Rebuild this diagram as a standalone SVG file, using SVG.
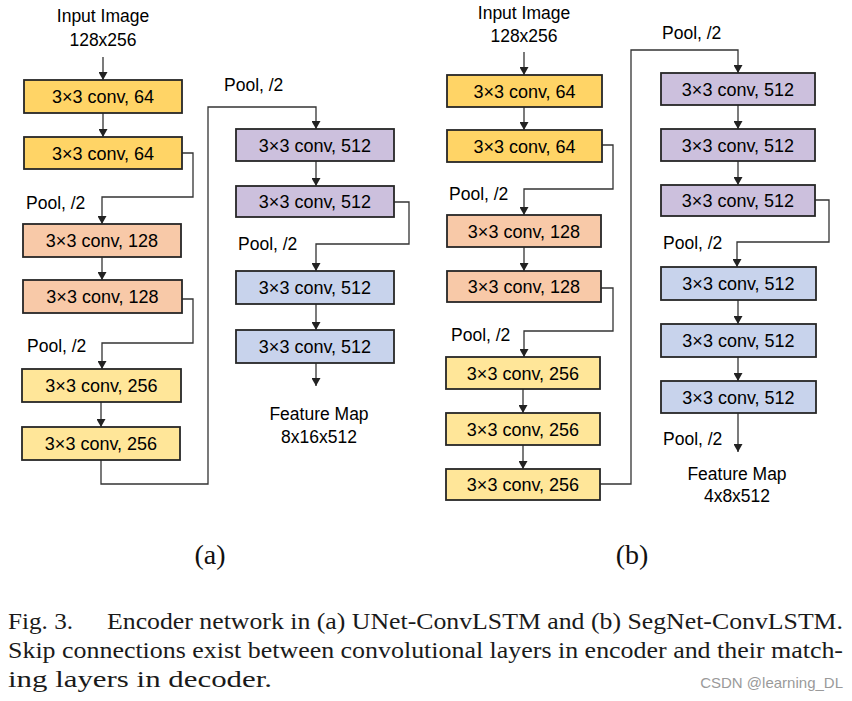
<svg xmlns="http://www.w3.org/2000/svg" width="852" height="701" viewBox="0 0 852 701">
<defs>
<style>
.box{stroke:#262626;stroke-width:1.8}
.g{fill:#FFD466}.s{fill:#F8C9A8}.y{fill:#FFE699}.p{fill:#CCC0DD}.b{fill:#C8D3EC}
.bt{font-family:"Liberation Sans",Arial,sans-serif;font-size:18px;fill:#000;text-anchor:middle}
.lb{font-family:"Liberation Sans",Arial,sans-serif;font-size:17.5px;fill:#000}
.c{text-anchor:middle}
.cap{font-size:24px;fill:#1a1a1a}
.sub{font-size:28px;fill:#111;text-anchor:middle}
.wm{font-family:"Liberation Sans",Arial,sans-serif;font-size:15px;fill:#9a9a9a;text-anchor:end}
.ln{fill:none;stroke:#333;stroke-width:1.3}
</style>
<marker id="arr" markerUnits="userSpaceOnUse" markerWidth="8" markerHeight="9" viewBox="0 0 8 9" refX="8" refY="4.5" orient="auto">
<path d="M0,0 L8,4.5 L0,9 Z" fill="#222"/>
</marker>
</defs>
<rect width="852" height="701" fill="#fff"/>

<g id="connectors">
<path class="ln" marker-end="url(#arr)" d="M103,57 V80"/>
<path class="ln" marker-end="url(#arr)" d="M103,113 V137"/>
<path class="ln" marker-end="url(#arr)" d="M182,153 H193 V197 H102 V224"/>
<path class="ln" marker-end="url(#arr)" d="M102,257 V280"/>
<path class="ln" marker-end="url(#arr)" d="M182,299 H193 V343 H102 V369"/>
<path class="ln" marker-end="url(#arr)" d="M101,402 V427"/>
<path class="ln" marker-end="url(#arr)" d="M101,460 V484 H208 V107 H316 V129"/>
<path class="ln" marker-end="url(#arr)" d="M316,161 V186"/>
<path class="ln" marker-end="url(#arr)" d="M394,202 H409 V244 H316 V271"/>
<path class="ln" marker-end="url(#arr)" d="M316,304 V330"/>
<path class="ln" marker-end="url(#arr)" d="M316,363 V386"/>

<path class="ln" marker-end="url(#arr)" d="M524,52 V75"/>
<path class="ln" marker-end="url(#arr)" d="M524,107 V130"/>
<path class="ln" marker-end="url(#arr)" d="M602,145 H613 V189 H524 V215"/>
<path class="ln" marker-end="url(#arr)" d="M524,247 V271"/>
<path class="ln" marker-end="url(#arr)" d="M601,288 H613 V331 H524 V357"/>
<path class="ln" marker-end="url(#arr)" d="M523,389 V413"/>
<path class="ln" marker-end="url(#arr)" d="M523,445 V469"/>
<path class="ln" marker-end="url(#arr)" d="M600,484 H631 V50 H738 V73"/>
<path class="ln" marker-end="url(#arr)" d="M738,105 V129"/>
<path class="ln" marker-end="url(#arr)" d="M738,161 V185"/>
<path class="ln" marker-end="url(#arr)" d="M815,200 H829 V242 H737 V267"/>
<path class="ln" marker-end="url(#arr)" d="M738,300 V324"/>
<path class="ln" marker-end="url(#arr)" d="M738,357 V381"/>
<path class="ln" marker-end="url(#arr)" d="M738,413 V452"/>
</g>

<g id="labels">
<text class="lb c" x="103" y="22">Input Image</text>
<text class="lb c" x="103" y="46">128x256</text>
<text class="lb" x="224" y="91">Pool, /2</text>
<text class="lb" x="26" y="209">Pool, /2</text>
<text class="lb" x="27" y="352">Pool, /2</text>
<text class="lb" x="238" y="250">Pool, /2</text>
<text class="lb c" x="319" y="420">Feature Map</text>
<text class="lb c" x="319" y="443">8x16x512</text>

<text class="lb c" x="524" y="19">Input Image</text>
<text class="lb c" x="524" y="42">128x256</text>
<text class="lb" x="449" y="200">Pool, /2</text>
<text class="lb" x="451" y="341">Pool, /2</text>
<text class="lb" x="662" y="39">Pool, /2</text>
<text class="lb" x="663" y="249">Pool, /2</text>
<text class="lb" x="663" y="445">Pool, /2</text>
<text class="lb c" x="737" y="480">Feature Map</text>
<text class="lb c" x="737" y="502">4x8x512</text>
</g>

<g id="a1"><rect class="box g" x="24" y="80" width="158" height="33"/><text class="bt" x="103" y="103">3×3 conv, 64</text></g>
<g id="a2"><rect class="box g" x="24" y="137" width="158" height="32"/><text class="bt" x="103" y="159.5">3×3 conv, 64</text></g>
<g id="a3"><rect class="box s" x="23" y="224" width="158" height="33"/><text class="bt" x="102" y="247">3×3 conv, 128</text></g>
<g id="a4"><rect class="box s" x="23" y="280" width="159" height="33"/><text class="bt" x="102.5" y="303">3×3 conv, 128</text></g>
<g id="a5"><rect class="box y" x="22" y="369" width="159" height="33"/><text class="bt" x="101.5" y="392">3×3 conv, 256</text></g>
<g id="a6"><rect class="box y" x="22" y="427" width="158" height="33"/><text class="bt" x="101" y="450">3×3 conv, 256</text></g>
<g id="a7"><rect class="box p" x="236" y="129" width="158" height="32"/><text class="bt" x="315" y="151.5">3×3 conv, 512</text></g>
<g id="a8"><rect class="box p" x="236" y="186" width="158" height="31"/><text class="bt" x="315" y="208">3×3 conv, 512</text></g>
<g id="a9"><rect class="box b" x="236" y="271" width="158" height="33"/><text class="bt" x="315" y="294">3×3 conv, 512</text></g>
<g id="a10"><rect class="box b" x="236" y="330" width="158" height="33"/><text class="bt" x="315" y="353">3×3 conv, 512</text></g>

<g id="b1"><rect class="box g" x="447" y="75" width="155" height="32"/><text class="bt" x="524.5" y="97.5">3×3 conv, 64</text></g>
<g id="b2"><rect class="box g" x="447" y="130" width="155" height="32"/><text class="bt" x="524.5" y="152.5">3×3 conv, 64</text></g>
<g id="b3"><rect class="box s" x="447" y="215" width="154" height="32"/><text class="bt" x="524" y="237.5">3×3 conv, 128</text></g>
<g id="b4"><rect class="box s" x="447" y="271" width="154" height="31"/><text class="bt" x="524" y="293">3×3 conv, 128</text></g>
<g id="b5"><rect class="box y" x="446" y="357" width="154" height="32"/><text class="bt" x="523" y="379.5">3×3 conv, 256</text></g>
<g id="b6"><rect class="box y" x="446" y="413" width="154" height="32"/><text class="bt" x="523" y="435.5">3×3 conv, 256</text></g>
<g id="b7"><rect class="box y" x="446" y="469" width="154" height="31"/><text class="bt" x="523" y="491">3×3 conv, 256</text></g>
<g id="b8"><rect class="box p" x="661" y="73" width="154" height="32"/><text class="bt" x="738" y="95.5">3×3 conv, 512</text></g>
<g id="b9"><rect class="box p" x="661" y="129" width="154" height="32"/><text class="bt" x="738" y="151.5">3×3 conv, 512</text></g>
<g id="b10"><rect class="box p" x="661" y="185" width="154" height="31"/><text class="bt" x="738" y="207">3×3 conv, 512</text></g>
<g id="b11"><rect class="box b" x="661" y="267" width="155" height="33"/><text class="bt" x="738.5" y="290">3×3 conv, 512</text></g>
<g id="b12"><rect class="box b" x="661" y="324" width="155" height="33"/><text class="bt" x="738.5" y="347">3×3 conv, 512</text></g>
<g id="b13"><rect class="box b" x="661" y="381" width="155" height="32"/><text class="bt" x="738.5" y="403.5">3×3 conv, 512</text></g>

<g id="caption" font-family="Liberation Serif, serif">
<text class="sub" x="210" y="564">(a)</text>
<text class="sub" x="632" y="564">(b)</text>
<text class="cap" x="8" y="629" textLength="65" lengthAdjust="spacingAndGlyphs">Fig. 3.</text>
<text class="cap" x="107" y="629" textLength="736" lengthAdjust="spacingAndGlyphs">Encoder network in (a) UNet-ConvLSTM and (b) SegNet-ConvLSTM.</text>
<text class="cap" x="8" y="658" textLength="835" lengthAdjust="spacingAndGlyphs">Skip connections exist between convolutional layers in encoder and their match-</text>
<text class="cap" x="8" y="687" textLength="264" lengthAdjust="spacingAndGlyphs">ing layers in decoder.</text>
<text class="wm" x="843" y="688">CSDN @learning_DL</text>
</g>
</svg>
